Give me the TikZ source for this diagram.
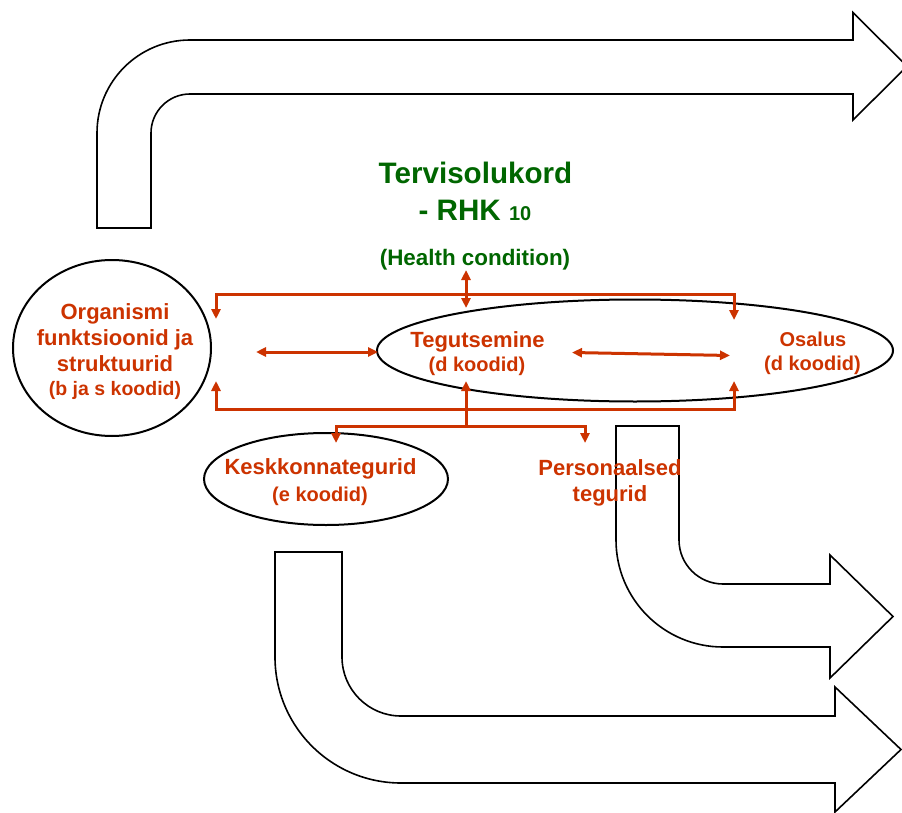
\documentclass[tikz,border=0pt]{standalone}
\usepackage{fontspec}
\setmainfont{Liberation Sans}
\usetikzlibrary{arrows.meta,shapes.geometric}
\definecolor{myred}{RGB}{204,51,0}
\definecolor{mygreen}{RGB}{0,102,0}
\begin{document}
\begin{tikzpicture}[x=1pt,y=-1pt,
  bigarrow/.style={draw=black,line width=1.6pt,line join=miter},
  ovalbox/.style={draw=black,line width=2pt,ellipse,inner sep=0pt},
  redline/.style={draw=myred,line width=3pt},
  tip/.style={-{Triangle[length=10pt,width=9pt]}},
  dtip/.style={{Triangle[length=10pt,width=9pt]}-{Triangle[length=10pt,width=9pt]}},
  redtxt/.style={text=myred,font=\bfseries\fontsize{22}{26}\selectfont,anchor=base,inner sep=0pt},
  redsmall/.style={text=myred,font=\bfseries\fontsize{20}{24}\selectfont,anchor=base,inner sep=0pt},
  greentxt/.style={text=mygreen,anchor=base,inner sep=0pt}]
\useasboundingbox (0,0) rectangle (902,813);

% big outline arrows
\draw[bigarrow] (97,228) -- (97,133) .. controls (97,81.6) and (138.6,40) .. (190,40)
  -- (853,40) -- (853,12.5) -- (907,66.3) -- (853,120) -- (853,94) -- (190,94)
  .. controls (168.5,94) and (151,111.5) .. (151,133) -- (151,228) -- cycle;
\draw[bigarrow] (616,426) -- (616,540) .. controls (616,599.1) and (663.9,647) .. (723,647)
  -- (830,647) -- (830,678) -- (893,616.5) -- (830,555) -- (830,584) -- (723,584)
  .. controls (698.7,584) and (679,564.3) .. (679,540) -- (679,426) -- cycle;
\draw[bigarrow] (275,552) -- (275,657) .. controls (275,726.6) and (331.4,783) .. (401,783)
  -- (835,783) -- (835,812) -- (901,749.5) -- (835,687) -- (835,716) -- (401,716)
  .. controls (368.4,716) and (342,689.6) .. (342,657) -- (342,552) -- cycle;

% ellipses
\node[ovalbox,minimum width=198pt,minimum height=176pt] (org) at (112,348) {};
\node[ovalbox,minimum width=516pt,minimum height=102pt] (teg) at (635,350.5) {};
\node[ovalbox,minimum width=244pt,minimum height=92pt] (kesk) at (326,479) {};

% texts
\node[greentxt,font=\bfseries\fontsize{29.6}{34}\selectfont] (t1) at (475.5,184) {Tervisolukord};
\node[greentxt,font=\bfseries\fontsize{29.6}{34}\selectfont] (t2) at (475,220.5) {- RHK {\fontsize{20}{24}\selectfont 10}};
\node[greentxt,font=\bfseries\fontsize{22.4}{26}\selectfont] (t3) at (475,265) {(Health condition)};

\node[redtxt] (o1) at (115,319) {Organismi};
\node[redtxt] (o2) at (115,345) {funktsioonid ja};
\node[redtxt] (o3) at (115,371) {struktuurid};
\node[redsmall,font=\bfseries\fontsize{19.5}{24}\selectfont] (o4) at (115,395) {(b ja s koodid)};

\node[redtxt] (g1) at (477.5,347) {Tegutsemine};
\node[redsmall] (g2) at (477,371) {(d koodid)};
\node[redsmall] (s1) at (813,346) {Osalus};
\node[redsmall] (s2) at (812.5,370.7) {(d koodid)};
\node[redtxt] (k1) at (320.5,474) {Keskkonnategurid};
\node[redsmall] (k2) at (320,501.7) {(e koodid)};
\node[redtxt] (p1) at (610,475) {Personaalsed};
\node[redtxt] (p2) at (610,501.7) {tegurid};

% connector points
\coordinate (hcTop) at (466,270);
\coordinate (hcBot) at (466,308);
\coordinate (topL) at (216,319);
\coordinate (topR) at (734,320);
\coordinate (botL) at (216,381);
\coordinate (botR) at (734,381);
\coordinate (midUp) at (466,381);
\coordinate (midJ) at (466,426);
\coordinate (keskIn) at (336,443);
\coordinate (persIn) at (585,443);
\coordinate (orgR) at (256,352);
\coordinate (tegL) at (378,352);
\coordinate (tegR) at (572,352.5);
\coordinate (osaL) at (730,355.5);

% red connectors
\draw[redline,dtip] (topL) -- (216,294) -- (734,294) -- (topR);
\draw[redline,dtip] (hcTop) -- (hcBot);
\draw[redline,dtip] (botL) -- (216,409) -- (734,409) -- (botR);
\draw[redline,tip] (midJ) -- (midUp);
\draw[redline,dtip] (keskIn) -- (336,426) -- (585,426) -- (persIn);
\draw[redline,dtip] (orgR) -- (tegL);
\draw[redline,dtip] (tegR) -- (osaL);
\end{tikzpicture}
\end{document}
